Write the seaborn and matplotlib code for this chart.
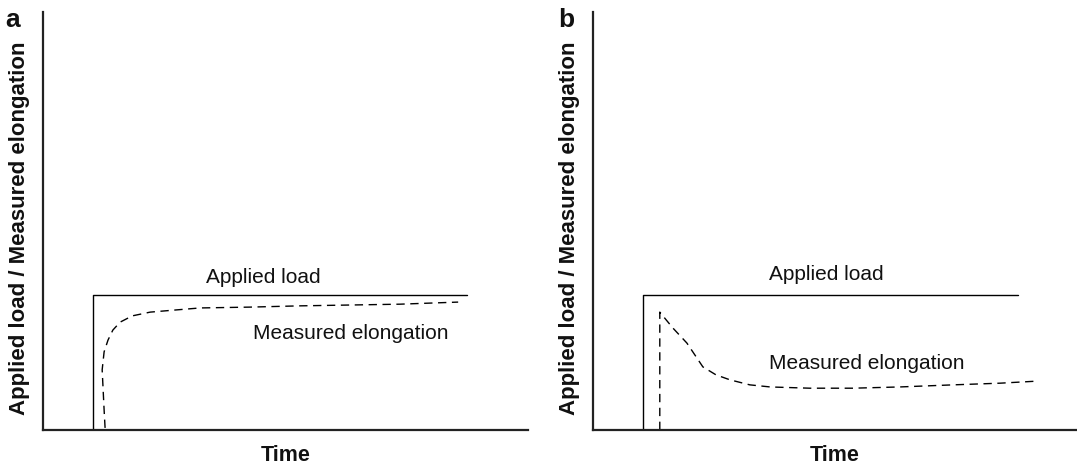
import numpy as np
import pandas as pd
import matplotlib
matplotlib.use("Agg")
import matplotlib.pyplot as plt
import seaborn as sns

# Schematic data (time and response in arbitrary 0-100 units)
load_a_t = [10.3, 10.3, 87.4]
load_a_y = [0.0, 32.3, 32.3]
elong_a_t = [12.8, 12.6, 12.4, 12.2, 12.6, 13.4, 14.4, 15.9, 18.4, 22.1, 27.2,
             32.4, 42.7, 53.0, 63.3, 73.6, 85.6]
elong_a_y = [0.5, 4.8, 9.6, 14.4, 18.7, 21.5, 23.9, 25.8, 27.3, 28.2, 28.7,
             29.2, 29.4, 29.7, 29.9, 30.1, 30.6]

load_b_t = [10.3, 10.3, 87.8]
load_b_y = [0.0, 32.3, 32.3]
elong_b_t = [13.8, 13.8, 16.5, 19.4, 22.7, 25.4, 28.3, 32.4, 36.6, 44.8, 53.7,
             63.4, 74.4, 84.1, 91.9]
elong_b_y = [0.0, 28.2, 24.4, 20.8, 15.1, 13.2, 12.0, 10.8, 10.3, 10.0, 10.0,
             10.3, 10.8, 11.2, 11.7]

panel_labels = ["a", "b"]
ylabel = "Applied load / Measured elongation"
xlabel = "Time"

sns.set_style("white")
plt.rcParams["font.family"] = ["Liberation Sans", "DejaVu Sans"]

fig = plt.figure(figsize=(10.77, 4.65), dpi=100)
ax_a = fig.add_axes([43 / 1077, 35 / 465, 485 / 1077, 418 / 465])
ax_b = fig.add_axes([593 / 1077, 35 / 465, 484 / 1077, 418 / 465])

panels = [
    (ax_a, load_a_t, load_a_y, elong_a_t, elong_a_y, (45.5, 36.6), (63.5, 23.2)),
    (ax_b, load_b_t, load_b_y, elong_b_t, elong_b_y, (48.3, 37.1), (56.6, 16.0)),
]

for i, (ax, lt, ly, et, ey, load_pos, elong_pos) in enumerate(panels):
    df_load = pd.DataFrame({"t": lt, "y": ly})
    df_elong = pd.DataFrame({"t": et, "y": ey})
    sns.lineplot(data=df_load, x="t", y="y", sort=False, estimator=None,
                 color="black", lw=1.0, ax=ax)
    sns.lineplot(data=df_elong, x="t", y="y", sort=False, estimator=None,
                 color="black", lw=1.0, linestyle=(0, (6, 4)), ax=ax)

    ax.text(*load_pos, "Applied load", ha="center", va="center", fontsize=15,
            color="#111111")
    ax.text(*elong_pos, "Measured elongation", ha="center", va="center", fontsize=15,
            color="#111111")

    ax.set_xlim(0, 100)
    ax.set_ylim(0, 100)
    ax.set_xticks([])
    ax.set_yticks([])
    for side in ["top", "right"]:
        ax.spines[side].set_visible(False)
    for side in ["left", "bottom"]:
        ax.spines[side].set_linewidth(1.6)
        ax.spines[side].set_color("#222222")

    ax.set_xlabel(xlabel, fontsize=15.5, fontweight="bold", color="#111111")
    ax.set_ylabel(ylabel, fontsize=16, fontweight="bold", color="#111111")
    ax.xaxis.set_label_coords(0.5, -0.036)
    ax.yaxis.set_label_coords(-0.027, 0.483)

fig.text(13 / 1077, 1 - 20 / 465, panel_labels[0], fontsize=19, fontweight="bold",
         ha="center", va="center", color="#111111")
fig.text(566 / 1077, 1 - 20 / 465, panel_labels[1], fontsize=19, fontweight="bold",
         ha="center", va="center", color="#111111")

fig.savefig("out.png", dpi=100)
